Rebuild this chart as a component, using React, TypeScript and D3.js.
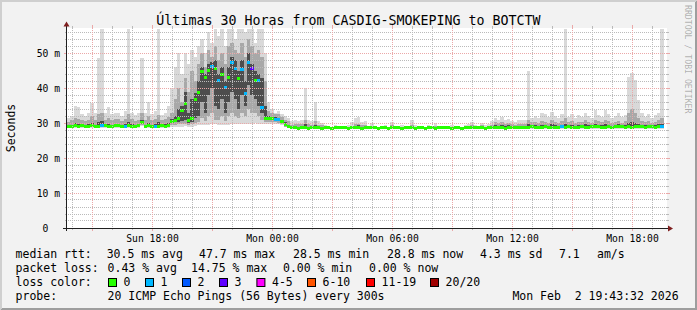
import React from "react";
import * as d3 from "d3";

// ---------- data (10-minute steps from the graph start) ----------
const startTime = new Date(Date.UTC(2026, 1, 1, 13, 43, 32));
const endTime = new Date(Date.UTC(2026, 1, 2, 19, 43, 32));
const stepMinutes = 10;

const medianMs = [
  29.1,29.0,29.2,29.1,29.3,29.0,29.1,29.2,29.0,29.1,
  29.4,29.2,29.1,29.0,29.2,29.3,29.1,29.0,29.2,29.1,
  29.0,29.3,30.2,29.1,29.2,29.0,29.1,29.0,29.2,29.1,
  29.3,30.4,30.8,31.3,33.7,35.5,30.6,31.4,36.7,38.6,
  44.6,43.0,45.0,46.2,45.7,42.1,44.0,40.2,43.0,47.3,
  45.7,42.7,45.2,38.3,47.3,45.5,42.1,42.1,34.3,31.2,
  31.2,31.2,30.9,30.9,30.3,29.5,29.1,28.8,28.6,28.5,
  28.6,28.6,28.5,28.6,28.7,28.6,28.5,28.6,28.6,28.5,
  28.6,28.6,28.7,28.6,28.5,28.6,28.6,28.6,28.5,28.6,
  28.6,28.7,28.6,28.5,28.6,28.6,28.5,28.6,28.6,28.6,
  28.5,28.6,28.7,28.6,28.5,28.6,28.6,28.5,28.6,28.6,
  28.5,28.6,28.6,28.7,28.6,28.5,28.6,28.6,28.5,28.6,
  28.6,28.6,28.7,28.6,28.6,28.5,28.6,28.6,28.7,28.6,
  28.6,28.5,28.6,28.6,28.7,28.6,28.8,28.7,28.8,28.9,
  28.8,28.7,28.8,28.9,28.8,28.8,28.7,28.8,28.9,28.8,
  28.9,28.8,28.7,28.8,28.9,28.8,28.8,28.9,29.0,28.9,
  28.8,28.8,28.9,28.8,28.9,29.0,28.9,28.8,28.9,28.8,
  28.9,29.0,28.9,28.8,28.9,28.9,28.8,28.9,29.0,NaN,
];

const lossPings = [
  0,0,0,0,0,0,0,0,0,0,
  1,0,0,0,0,0,0,1,0,0,
  0,0,0,0,0,0,1,0,0,0,
  0,0,0,0,0,0,0,0,0,0,
  0,0,0,1,0,1,0,1,0,1,
  1,0,1,1,1,3,0,1,1,0,
  0,0,1,1,0,0,0,0,0,0,
  0,0,0,0,0,0,0,0,0,0,
  0,0,0,0,0,0,0,0,0,0,
  0,0,0,0,0,0,0,0,0,0,
  0,0,0,0,0,0,0,0,0,0,
  0,0,0,0,0,0,0,0,0,0,
  0,0,0,0,0,0,0,0,0,0,
  0,0,0,0,0,0,0,0,0,0,
  0,0,0,0,0,0,0,0,1,0,
  0,0,0,0,0,0,0,0,0,0,
  0,0,0,0,0,0,0,0,0,0,
  0,0,0,0,0,0,0,0,1,NaN,
];

// smoke: outer (min..max), middle (lo..hi), core (coreLo..coreHi)
const maxMs = [
  31.5,32,34.9,34.5,32.5,32,32.8,35.7,33,48.5,
  57,33,34.7,32.5,33,33,32,33.5,57,33,
  32.3,33,48.5,33,36,32.5,33.5,57,32.3,33,
  34.9,40,46,50,44,50,47,51,49,52,
  54,50,56,53,57,55,57,52,57,57,
  54,57,57,56,57,57,53,57,57,50,
  36,34,33,33.5,32.5,32,31.5,30.5,30.8,30.5,
  31,40,31,30.5,36,30.5,30,29.3,29.0,29.0,
  29.4,29.0,29.0,29.0,29.5,30.2,31.4,31.8,30.2,30.5,
  29.0,30,29.0,29.0,29.0,29.4,29.0,30.3,29.0,29.0,
  29.5,29.0,29.0,30.9,29.4,29.0,29.0,29.0,29.3,29.0,
  30,29.0,29.0,29.0,29.0,29.5,29.0,29.0,29.0,29.3,
  29.8,30.4,29.5,29.0,30.1,29.4,29.8,30.5,31.5,31,
  31.8,30.8,31.2,30.5,30.2,30.8,31,30.8,45,31.5,
  32,31.5,33,32.5,31.8,33.2,32,31.5,32.5,57,
  31.8,32.5,31.5,32.3,31.8,33,32,31.5,33.7,32.3,
  31.8,33.7,32.5,31.5,32,32.8,31.6,32.3,43.2,44.2,
  42.3,36.6,33,31.8,32.5,31.5,32.2,33,57,NaN,
];

const hiMs = [
  30.3,30.8,31.5,31.2,30.8,30.6,31,32,31,32.5,
  33,31,31.5,30.8,31.2,31.2,30.6,31.2,32.5,31.2,
  30.7,31,33,31,32,30.8,31.2,32.4,30.9,31.2,
  31.6,33,37,40,36,43,39,45,42,47,
  50,46,51,49,52,48,50,47,52,53,
  51,50,53,49,54,52,50,51,49,42,
  33.5,33,32.5,32.5,31.8,31,30.5,29.5,29.8,29.6,
  29.8,31,29.6,29.4,30.5,29.4,29.3,28.9,28.9,28.9,
  28.9,28.9,28.9,28.9,28.9,29.2,29.6,29.7,29.3,29.4,
  28.9,29.2,28.9,28.9,28.9,28.9,28.9,29.3,28.9,28.9,
  28.9,28.9,28.9,29.5,28.9,28.9,28.9,28.9,28.9,28.9,
  29.2,28.9,28.9,28.9,28.9,28.9,28.9,28.9,28.9,28.9,
  29.1,29.4,28.9,28.9,29.3,28.9,29.1,29.5,30.2,29.9,
  30.4,29.8,30,29.6,29.5,29.8,29.8,29.7,31,30.2,
  30.2,30,30.6,30.4,30.1,30.8,30.3,30,30.5,31.5,
  30.2,30.6,30,30.4,30.2,30.8,30.3,30,31,30.5,
  30.2,31,30.6,30,30.4,30.7,30.1,30.5,33,34,
  33,31.5,30.5,30.2,30.6,30.1,30.4,30.8,31.5,NaN,
];

const coreHiMs = [
  29.4,29.5,29.9,29.6,29.4,29.3,29.6,30.1,29.4,30.3,
  30.5,29.4,29.8,29.4,29.6,29.7,29.3,29.6,30.4,29.7,
  29.4,29.6,30.8,29.5,30.1,29.4,29.6,30.2,29.4,29.6,
  30.0,31.2,32,34,35,39,33,37,38.5,42,
  46,44,47,47.5,48,44,46,42,46,49,
  48,45,48,42,50,47,45,44,43,35,
  32,31.8,31.6,31.5,31,30.2,29.5,29,28.9,28.8,
  28.9,29.6,28.8,28.8,29.4,28.8,28.8,28.8,28.8,28.8,
  28.8,28.8,28.8,28.8,28.8,28.8,29.2,29.3,28.8,28.9,
  28.8,28.8,28.8,28.8,28.8,28.8,28.8,28.8,28.8,28.8,
  28.8,28.8,28.8,29.1,28.8,28.8,28.8,28.8,28.8,28.8,
  28.8,28.8,28.8,28.8,28.8,28.8,28.8,28.8,28.8,28.8,
  28.8,29,28.8,28.8,28.9,28.8,28.8,29,29.3,29.1,
  29.5,29.2,29.3,29,28.9,29.1,29.2,29.2,29.6,29.3,
  29.3,29.2,29.5,29.4,29.2,29.6,29.3,29.2,29.4,29.8,
  29.3,29.5,29.2,29.4,29.3,29.6,29.4,29.2,29.8,29.5,
  29.3,29.7,29.5,29.2,29.4,29.6,29.3,29.5,30.1,30.3,
  30.1,29.7,29.4,29.3,29.5,29.2,29.4,29.6,29.8,NaN,
];

const coreLoMs = [
  28.9,28.9,28.9,28.9,28.9,28.9,28.9,28.9,28.9,28.9,
  28.9,28.9,28.9,28.9,28.9,28.9,28.9,28.9,28.9,28.9,
  28.9,28.9,29.8,28.9,28.9,28.9,28.9,28.9,28.9,28.9,
  28.9,29.9,30.2,30.4,30.5,31,30,30.4,31.5,32,
  36,33,38,40,35,34,37,33,36,39,
  37,34,38,35,41,38,37,35,33,30.8,
  30.8,30.8,30.6,30.5,30,29.3,29,28.7,28.4,28.4,
  28.4,28.4,28.4,28.4,28.4,28.4,28.4,28.4,28.4,28.4,
  28.4,28.4,28.4,28.4,28.4,28.4,28.4,28.4,28.4,28.4,
  28.4,28.4,28.4,28.4,28.4,28.4,28.4,28.4,28.4,28.4,
  28.4,28.4,28.4,28.4,28.4,28.4,28.4,28.4,28.4,28.4,
  28.4,28.4,28.4,28.4,28.4,28.4,28.4,28.4,28.4,28.4,
  28.4,28.4,28.4,28.4,28.4,28.4,28.4,28.4,28.4,28.4,
  28.4,28.4,28.4,28.4,28.4,28.4,28.6,28.6,28.6,28.6,
  28.6,28.6,28.6,28.6,28.6,28.6,28.6,28.6,28.6,28.6,
  28.6,28.6,28.6,28.6,28.6,28.6,28.6,28.6,28.6,28.6,
  28.6,28.6,28.6,28.6,28.6,28.6,28.6,28.6,28.6,28.6,
  28.6,28.6,28.6,28.6,28.6,28.6,28.6,28.6,28.6,NaN,
];

const loMs = [
  28.8,28.8,28.8,28.8,28.8,28.8,28.8,28.8,28.8,28.8,
  28.8,28.8,28.8,28.8,28.8,28.8,28.8,28.8,28.8,28.8,
  28.8,28.8,29.5,28.8,28.8,28.8,28.8,28.8,28.8,28.8,
  28.8,29.4,29.5,29.6,29.7,29.8,29.5,29.7,30,30.2,
  31.5,30.5,32,33,31,31,32,30.5,32,33,
  32,31.5,33,32,34,33,33,32,31,30.3,
  30.3,30.3,30.2,30,29.7,29,28.8,28.6,28.3,28.3,
  28.3,28.3,28.3,28.3,28.3,28.3,28.3,28.3,28.3,28.3,
  28.3,28.3,28.3,28.3,28.3,28.3,28.3,28.3,28.3,28.3,
  28.3,28.3,28.3,28.3,28.3,28.3,28.3,28.3,28.3,28.3,
  28.3,28.3,28.3,28.3,28.3,28.3,28.3,28.3,28.3,28.3,
  28.3,28.3,28.3,28.3,28.3,28.3,28.3,28.3,28.3,28.3,
  28.3,28.3,28.3,28.3,28.3,28.3,28.3,28.3,28.3,28.3,
  28.3,28.3,28.3,28.3,28.3,28.3,28.5,28.5,28.5,28.5,
  28.5,28.5,28.5,28.5,28.5,28.5,28.5,28.5,28.5,28.5,
  28.5,28.5,28.5,28.5,28.5,28.5,28.5,28.5,28.5,28.5,
  28.5,28.5,28.5,28.5,28.5,28.5,28.5,28.5,28.5,28.5,
  28.5,28.5,28.5,28.5,28.5,28.5,28.5,28.5,28.5,NaN,
];

const minMs = [
  28.7,28.7,28.7,28.7,28.7,28.7,28.7,28.7,28.7,28.7,
  28.7,28.7,28.7,28.7,28.7,28.7,28.7,28.7,28.7,28.7,
  28.7,28.7,29.2,28.7,28.7,28.7,28.7,28.7,28.7,28.7,
  28.7,28.9,29,29,29,29.1,29,29,29.2,29.3,
  29.5,29.4,29.5,29.6,29.6,29.5,29.4,29.4,29.5,29.6,
  29.8,29.8,29.8,29.6,29.8,29.8,30,29.8,29.6,29.6,
  29.8,29.8,29.7,29.6,29.3,28.8,28.6,28.5,28.2,28.2,
  28.2,28.2,28.2,28.2,28.2,28.2,28.2,28.2,28.2,28.2,
  28.2,28.2,28.2,28.2,28.2,28.2,28.2,28.2,28.2,28.2,
  28.2,28.2,28.2,28.2,28.2,28.2,28.2,28.2,28.2,28.2,
  28.2,28.2,28.2,28.2,28.2,28.2,28.2,28.2,28.2,28.2,
  28.2,28.2,28.2,28.2,28.2,28.2,28.2,28.2,28.2,28.2,
  28.2,28.2,28.2,28.2,28.2,28.2,28.2,28.2,28.2,28.2,
  28.2,28.2,28.2,28.2,28.2,28.2,28.4,28.4,28.4,28.4,
  28.4,28.4,28.4,28.4,28.4,28.4,28.4,28.4,28.4,28.4,
  28.4,28.4,28.4,28.4,28.4,28.4,28.4,28.4,28.4,28.4,
  28.4,28.4,28.4,28.4,28.4,28.4,28.4,28.4,28.4,28.4,
  28.4,28.4,28.4,28.4,28.4,28.4,28.4,28.4,28.4,NaN,
];

// loss colour legend
const lossBinUpper = [0, 1, 2, 3, 5, 10, 19, 20];
const lossLabels = ["0", "1", "2", "3", "4-5", "6-10", "11-19", "20/20"];
const lossColors = ["#26ff00", "#00b8ff", "#0059ff", "#5e00ff", "#ff00ff", "#ff5500", "#ff0000", "#a00000"];

// axis ticks
const yMajorTicks = [0, 10, 20, 30, 40, 50];
const yUnit = "m";

// texts
const titleText = "Últimas 30 Horas from CASDIG-SMOKEPING to BOTCTW";
const yAxisTitle = "Seconds";
const rttLegend = ["median rtt:", "30.5 ms avg", "47.7 ms max", "28.5 ms min", "28.8 ms now", "4.3 ms sd", "7.1", "am/s"];
const lossStatsLegend = ["packet loss:", "0.43 % avg", "14.75 % max", "0.00 % min", "0.00 % now"];
const lossColorTitle = "loss color:";
const probeLegend = ["probe:", "20 ICMP Echo Pings (56 Bytes) every 300s", "Mon Feb  2 19:43:32 2026"];
const watermark = "RRDTOOL / TOBI OETIKER";

// ---------- layout ----------
const W = 697, H = 310;
const X0 = 67, X1 = 667, Y0 = 228, Y1 = 28;
const MONO = "'DejaVu Sans Mono', monospace";
const rttX = [15.6, 106.7, 199, 293, 387, 480, 559, 597];
const lossX = [15.6, 107.6, 191, 283, 369];
const boxX = [108, 145, 182, 219, 256.4, 307, 366, 430];
const probeX = [15.6, 107.6, 512.4];

const smokeOuter = "#d9d9d9";
const smokeMid = "#a8a8a8";
const smokeCore = "#4d4d4d";
const gridMinor = "#bababa";
const gridMajor = "#eba8a8";

export default function App() {
  const x = d3.scaleUtc().domain([startTime, endTime]).range([X0, X1]);
  const y = d3.scaleLinear().domain([0, (Y0 - Y1) / 3.5]).range([Y0, Y1]);
  const stepMs = stepMinutes * 60 * 1000;
  const tAt = (i: number) => new Date(startTime.getTime() + i * stepMs);

  const idx = d3.range(medianMs.length).filter((i) => !Number.isNaN(medianMs[i]));
  const colX = (i: number) => {
    const a = x(tAt(i));
    const b = Math.min(x(tAt(i + 1)), X1);
    return [a, b];
  };

  const lossColor = (l: number) => {
    const k = lossBinUpper.findIndex((u) => l <= u);
    return lossColors[k < 0 ? lossColors.length - 1 : k];
  };

  const band = (lo: number[], hi: number[], fill: string, key: string) =>
    idx.map((i) => {
      const [a, b] = colX(i);
      const yt = y(hi[i]);
      const yb = y(lo[i]);
      return <rect key={key + i} x={a} y={yt} width={b - a} height={Math.max(0, yb - yt)} fill={fill} shapeRendering="crispEdges" />;
    });

  const allHours = d3.utcHour.range(d3.utcHour.ceil(startTime), endTime);
  const minorHours = allHours.filter((t) => t.getUTCHours() % 3 !== 0);
  const majorHours = allHours.filter((t) => t.getUTCHours() % 3 === 0);
  const labelHours = allHours.filter((t) => t.getUTCHours() % 6 === 0);
  const fmt = d3.utcFormat("%a %H:%M");

  const yAll = d3.range(2, y.domain()[1], 2);
  const yMinor = yAll.filter((v) => v % 10 !== 0);
  const yMajor = yMajorTicks.filter((v) => v > 0);

  const pxi = (v: number) => Math.floor(v);

  const vLine = (xv: number, pat: string, col: string, tick: number, key: string) => {
    const xi = pxi(xv);
    return (
      <g key={key}>
        <rect x={xi} y={Y1} width={1} height={Y0 - Y1} fill={`url(#${pat})`} />
        <rect x={xi} y={Y1 - tick} width={1} height={tick} fill={col} />
        <rect x={xi} y={Y0} width={1} height={tick} fill={col} />
      </g>
    );
  };
  const hLine = (yv: number, pat: string, col: string, tick: number, key: string) => {
    const yi = pxi(yv);
    return (
      <g key={key}>
        <rect x={X0} y={yi} width={X1 - X0} height={1} fill={`url(#${pat})`} />
        <rect x={X0 - tick} y={yi} width={tick} height={1} fill={col} />
        <rect x={X1} y={yi} width={tick} height={1} fill={col} />
      </g>
    );
  };

  return (
    <svg width={W} height={H} viewBox={`0 0 ${W} ${H}`} style={{ position: "absolute", left: 0, top: 0, display: "block" }} shapeRendering="crispEdges">
      <defs>
        <pattern id="vMinor" x={0} y={0} width={1} height={2} patternUnits="userSpaceOnUse">
          <rect x={0} y={0} width={1} height={1} fill={gridMinor} />
        </pattern>
        <pattern id="hMinor" x={0} y={0} width={2} height={1} patternUnits="userSpaceOnUse">
          <rect x={0} y={0} width={1} height={1} fill={gridMinor} />
        </pattern>
        <pattern id="vMajor" x={0} y={0} width={1} height={2} patternUnits="userSpaceOnUse">
          <rect x={0} y={0} width={1} height={1} fill={gridMajor} />
        </pattern>
        <pattern id="hMajor" x={0} y={0} width={2} height={1} patternUnits="userSpaceOnUse">
          <rect x={0} y={0} width={1} height={1} fill={gridMajor} />
        </pattern>
      </defs>

      {/* background + 3d border */}
      <rect x={0} y={0} width={W} height={H} fill="#f2f2f2" />
      <polygon points={`0,${H} 2,${H - 2} 2,2 ${W - 2},2 ${W},0 0,0`} fill="#cfcfcf" />
      <polygon points={`2,${H - 2} ${W - 2},${H - 2} ${W - 2},2 ${W},0 ${W},${H} 0,${H}`} fill="#9e9e9e" />
      {/* canvas */}
      <rect x={X0} y={Y1} width={X1 - X0} height={Y0 - Y1} fill="#ffffff" />

      {/* smoke */}
      <g>{band(minMs, maxMs, smokeOuter, "o")}</g>
      <g>{band(loMs, hiMs, smokeMid, "m")}</g>
      <g>{band(coreLoMs, coreHiMs, smokeCore, "c")}</g>

      {/* median coloured by loss */}
      <g>
        {idx.map((i) => {
          const [a, b] = colX(i);
          const ym = y(medianMs[i]);
          return <rect key={"md" + i} x={a} y={ym - 1.5} width={b - a} height={3} fill={lossColor(lossPings[i])} />;
        })}
      </g>

      {/* grid (drawn above data like rrdtool) */}
      <g>
        {minorHours.map((t, k) => vLine(x(t), "vMinor", gridMinor, 2, "vg" + k))}
        {yMinor.map((v, k) => hLine(y(v), "hMinor", gridMinor, 2, "hg" + k))}
        {majorHours.map((t, k) => vLine(x(t), "vMajor", gridMajor, 3, "vM" + k))}
        {yMajor.map((v, k) => hLine(y(v), "hMajor", gridMajor, 3, "hM" + k))}
      </g>

      {/* axes */}
      <rect x={X0 - 4} y={Y0} width={X1 - X0 + 5} height={1} fill="#1f1f1f" />
      <rect x={X0 - 1} y={Y1 - 2} width={1} height={Y0 - Y1 + 5} fill="#1f1f1f" />
      <polygon points={`${X1 + 1},${Y0 - 2.5} ${X1 + 1},${Y0 + 3.5} ${X1 + 6},${Y0 + 0.5}`} fill="#7f1f1f" shapeRendering="auto" />
      <polygon points={`${X0 - 3.5},${Y1 - 1.5} ${X0 + 2.5},${Y1 - 1.5} ${X0 - 0.5},${Y1 - 6.5}`} fill="#7f1f1f" shapeRendering="auto" />

      {/* y labels */}
      <g fontFamily={MONO} fontSize={9.7} fill="#000">
        {yMajorTicks.map((v) => (
          <text key={"yl" + v} x={v === 0 ? 48.3 : 60} y={y(v) + 3.6} textAnchor="end">
            {v === 0 ? "0" : `${v} ${yUnit}`}
          </text>
        ))}
        {labelHours.map((t, k) => (
          <text key={"xl" + k} x={x(t)} y={241.5} textAnchor="middle">
            {fmt(t)}
          </text>
        ))}
      </g>

      {/* titles */}
      <text x={W / 2} y={24.5} textAnchor="middle" fontFamily={MONO} fontSize={13.3} fill="#000">
        {titleText}
      </text>
      <text transform={`translate(14.5, ${(Y0 + Y1) / 2}) rotate(-90)`} textAnchor="middle" fontFamily={MONO} fontSize={11.5} fill="#000">
        {yAxisTitle}
      </text>
      <text transform={`translate(685, 5) rotate(90)`} fontFamily={MONO} fontSize={8.2} fill="rgba(0,0,0,0.3)">
        {watermark}
      </text>

      {/* legend */}
      <g fontFamily={MONO} fontSize={11.5} fill="#000" style={{ whiteSpace: "pre" }}>
        {rttLegend.map((s, k) => (
          <text key={"r" + k} x={rttX[k]} y={257.5} xmlSpace="preserve">{s}</text>
        ))}
        {lossStatsLegend.map((s, k) => (
          <text key={"l" + k} x={lossX[k]} y={271.5} xmlSpace="preserve">{s}</text>
        ))}
        <text x={15.6} y={285.5}>{lossColorTitle}</text>
        {lossLabels.map((s, k) => (
          <g key={"b" + k}>
            <rect x={boxX[k] + 0.5} y={278.5} width={8} height={8} fill={lossColors[k]} stroke="#000" strokeWidth={1} shapeRendering="auto" />
            <text x={boxX[k] + 15.6} y={285.5}>{s}</text>
          </g>
        ))}
        {probeLegend.map((s, k) => (
          <text key={"p" + k} x={probeX[k]} y={299.5} xmlSpace="preserve">{s}</text>
        ))}
      </g>
    </svg>
  );
}
